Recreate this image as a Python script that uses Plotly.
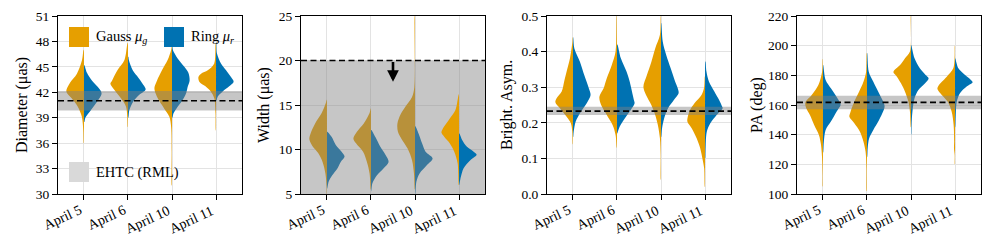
import plotly.graph_objects as go

# ---------------- data ----------------
days = ["April 5", "April 6", "April 10", "April 11"]

# Diameter (uas): y values (top -> bottom) and relative half-width densities
diam_gauss_v = [
    [47.0, 45.8, 44.2, 43.1, 42.1, 41.3, 40.3, 39.1, 37.5, 36.0],
    [47.8, 45.8, 44.6, 43.4, 43.0, 42.3, 41.3, 40.3, 39.0, 37.9],
    [47.5, 47.0, 45.8, 44.6, 43.4, 42.5, 41.7, 40.9, 40.1, 39.1, 37.9, 35.0, 31.0],
    [47.7, 45.4, 44.6, 44.2, 43.8, 43.25, 42.7, 42.1, 41.3, 39.5, 37.5],
]
diam_gauss_d = [
    [0.02, 0.11, 0.40, 0.80, 1.00, 0.70, 0.35, 0.12, 0.04, 0.01],
    [0.02, 0.20, 0.60, 0.90, 1.00, 0.78, 0.40, 0.11, 0.04, 0.01],
    [0.01, 0.05, 0.25, 0.57, 0.85, 1.00, 0.90, 0.70, 0.45, 0.15, 0.05, 0.02, 0.01],
    [0.02, 0.10, 0.47, 0.85, 1.00, 0.95, 0.60, 0.30, 0.10, 0.03, 0.01],
]
diam_ring_v = [
    [45.2, 44.3, 43.4, 42.7, 41.9, 40.9, 39.9, 39.0, 38.5],
    [46.2, 45.8, 44.6, 43.7, 42.7, 42.3, 41.7, 40.9, 39.9, 39.0],
    [47.5, 47.0, 46.0, 45.0, 44.3, 43.4, 42.7, 41.9, 41.1, 40.3, 39.5, 39.0],
    [48.0, 46.6, 45.4, 44.6, 43.8, 43.25, 42.7, 42.1, 41.5, 41.0],
]
diam_ring_d = [
    [0.02, 0.17, 0.45, 0.75, 1.00, 0.75, 0.40, 0.08, 0.02],
    [0.02, 0.05, 0.27, 0.60, 0.93, 1.00, 0.64, 0.30, 0.08, 0.02],
    [0.01, 0.05, 0.32, 0.70, 0.93, 1.00, 0.90, 0.80, 0.60, 0.32, 0.08, 0.02],
    [0.01, 0.05, 0.28, 0.57, 0.85, 1.00, 0.75, 0.38, 0.10, 0.02],
]

# Width (uas)
width_gauss_v = [
    [15.6, 15.2, 14.1, 12.9, 11.8, 11.15, 10.3, 9.6, 8.6, 7.3, 5.8, 5.0],
    [14.6, 14.1, 12.9, 12.0, 11.25, 10.7, 9.75, 8.6, 7.3, 5.5],
    [25.0, 17.0, 15.9, 14.8, 13.9, 12.9, 12.0, 11.1, 10.1, 8.8, 7.3, 5.5],
    [16.2, 15.9, 14.4, 13.3, 12.4, 11.9, 11.4, 10.7, 9.75, 8.45, 6.0],
]
width_gauss_d = [
    [0.01, 0.07, 0.30, 0.68, 0.93, 1.00, 0.80, 0.50, 0.25, 0.09, 0.02, 0.01],
    [0.01, 0.08, 0.42, 0.80, 1.00, 0.85, 0.45, 0.23, 0.08, 0.01],
    [0.01, 0.04, 0.17, 0.55, 0.83, 1.00, 0.97, 0.74, 0.42, 0.17, 0.06, 0.01],
    [0.01, 0.05, 0.21, 0.59, 0.91, 1.00, 0.83, 0.53, 0.27, 0.08, 0.01],
]
width_ring_v = [
    [12.0, 11.4, 10.5, 9.75, 9.2, 8.6, 7.9, 7.1, 6.4, 5.6],
    [12.2, 11.4, 10.3, 9.4, 8.6, 7.9, 7.1, 6.2, 5.3],
    [12.6, 11.8, 10.7, 9.75, 9.0, 8.25, 7.3, 6.4, 5.0],
    [11.8, 11.1, 10.3, 9.75, 9.4, 8.8, 7.9, 6.9, 6.0],
]
width_ring_d = [
    [0.02, 0.27, 0.50, 0.83, 1.00, 0.78, 0.60, 0.30, 0.10, 0.01],
    [0.02, 0.25, 0.53, 0.82, 1.00, 0.72, 0.34, 0.08, 0.01],
    [0.02, 0.20, 0.40, 0.60, 1.00, 0.68, 0.26, 0.08, 0.01],
    [0.02, 0.17, 0.45, 0.83, 1.00, 0.64, 0.26, 0.10, 0.01],
]

# Brightness asymmetry
asym_gauss_v = [
    [0.44, 0.428, 0.381, 0.344, 0.316, 0.288, 0.269, 0.258, 0.241, 0.217, 0.199, 0.175, 0.14],
    [0.50, 0.40, 0.362, 0.325, 0.297, 0.273, 0.25, 0.222, 0.194, 0.166, 0.13],
    [0.50, 0.447, 0.409, 0.371, 0.334, 0.301, 0.278, 0.25, 0.222, 0.194, 0.156, 0.11, 0.04],
    [0.33, 0.30, 0.278, 0.255, 0.236, 0.217, 0.203, 0.185, 0.156, 0.128, 0.10, 0.072, 0.02],
]
asym_gauss_d = [
    [0.01, 0.03, 0.17, 0.36, 0.50, 0.64, 0.93, 1.00, 0.74, 0.36, 0.12, 0.04, 0.01],
    [0.01, 0.08, 0.30, 0.58, 0.76, 1.00, 0.90, 0.58, 0.25, 0.08, 0.01],
    [0.01, 0.06, 0.33, 0.55, 0.80, 1.00, 0.85, 0.55, 0.33, 0.18, 0.06, 0.02, 0.01],
    [0.01, 0.05, 0.20, 0.60, 0.85, 0.98, 1.00, 0.76, 0.47, 0.27, 0.15, 0.05, 0.01],
]
asym_ring_v = [
    [0.44, 0.409, 0.371, 0.334, 0.297, 0.278, 0.255, 0.231, 0.203, 0.175, 0.16],
    [0.42, 0.381, 0.344, 0.316, 0.288, 0.264, 0.255, 0.236, 0.213, 0.189, 0.17],
    [0.48, 0.428, 0.39, 0.353, 0.316, 0.297, 0.283, 0.264, 0.241, 0.213, 0.185, 0.16],
    [0.372, 0.344, 0.316, 0.288, 0.264, 0.248, 0.241, 0.222, 0.199, 0.175, 0.128, 0.10],
]
asym_ring_d = [
    [0.01, 0.08, 0.40, 0.64, 0.90, 1.00, 0.78, 0.45, 0.15, 0.04, 0.01],
    [0.02, 0.22, 0.54, 0.72, 0.85, 0.96, 1.00, 0.78, 0.45, 0.15, 0.01],
    [0.01, 0.10, 0.30, 0.55, 0.80, 0.95, 1.00, 0.73, 0.40, 0.18, 0.06, 0.01],
    [0.02, 0.08, 0.22, 0.53, 0.80, 0.95, 1.00, 0.66, 0.30, 0.10, 0.03, 0.01],
]

# Position angle (deg)
pa_gauss_v = [
    [191, 182.5, 173.5, 166.8, 161.8, 157.8, 153.3, 146.5, 139.8, 133, 124.1, 112.8, 105],
    [195, 182.5, 175.7, 169.0, 163.4, 157.8, 154.4, 152.1, 147.7, 142.0, 135.3, 128.5, 117.3, 102],
    [220, 196, 191.5, 187, 183.6, 182.1, 179.1, 174.6, 169, 162.3, 155.5, 145],
    [200, 193.7, 184.7, 179.1, 175.7, 173, 170.8, 166.8, 162.3, 155.5, 146.5, 135.3, 130.8, 126.3, 120],
]
pa_gauss_d = [
    [0.01, 0.05, 0.26, 0.64, 1.00, 0.95, 0.74, 0.50, 0.23, 0.11, 0.05, 0.02, 0.01],
    [0.01, 0.05, 0.20, 0.45, 0.68, 0.87, 0.96, 1.00, 0.72, 0.40, 0.20, 0.08, 0.03, 0.01],
    [0.01, 0.06, 0.34, 0.62, 0.94, 1.00, 0.80, 0.57, 0.34, 0.15, 0.06, 0.01],
    [0.01, 0.02, 0.10, 0.47, 0.75, 0.94, 1.00, 0.75, 0.42, 0.19, 0.08, 0.05, 0.06, 0.02, 0.01],
]
pa_ring_v = [
    [187, 176.9, 171.3, 165.6, 161.8, 160, 155.5, 148.8, 143.2, 135.3, 128],
    [195, 182.5, 175.7, 169, 162.3, 158.9, 154.4, 148.8, 143.2, 137.5, 130.8, 125],
    [200.5, 191.5, 184.7, 180.2, 178, 174.6, 170.1, 164.5, 155.5, 146.5, 140],
    [191.5, 184.7, 180.2, 176.9, 175.3, 172.4, 167.9, 162.3, 153.3, 145],
]
pa_ring_d = [
    [0.01, 0.15, 0.45, 0.77, 0.96, 1.00, 0.77, 0.45, 0.15, 0.05, 0.01],
    [0.01, 0.10, 0.36, 0.64, 0.92, 1.00, 0.87, 0.64, 0.36, 0.12, 0.04, 0.01],
    [0.01, 0.20, 0.50, 0.83, 1.00, 0.80, 0.42, 0.20, 0.08, 0.03, 0.01],
    [0.01, 0.19, 0.57, 0.90, 1.00, 0.66, 0.28, 0.10, 0.04, 0.01],
]

# EHTC reference values (center, band low, band high)
ref_center = [41.0, 20.0, 0.233, 161.8]
ref_low = [39.85, 5.0, 0.222, 157.2]
ref_high = [42.15, 20.0, 0.245, 166.3]

y_titles = ["Diameter (μas)", "Width (μas)", "Bright. Asym.", "PA (deg)"]
y_ranges = [[30, 51], [5, 25], [0, 0.5], [100, 220]]
y_ticks = [
    [30, 33, 36, 39, 42, 45, 48, 51],
    [5, 10, 15, 20, 25],
    [0.0, 0.1, 0.2, 0.3, 0.4, 0.5],
    [100, 120, 140, 160, 180, 200, 220],
]
y_ticktext = [
    [str(t) for t in y_ticks[0]],
    [str(t) for t in y_ticks[1]],
    ["%.1f" % t for t in y_ticks[2]],
    [str(t) for t in y_ticks[3]],
]

# ---------------- style ----------------
PAGE_OFF = 8  # default body margin of the html page
W, H = 997 - PAGE_OFF, 250 - PAGE_OFF
ORANGE = "#E69F00"
BLUE = "#0072B2"
BAND = "rgba(128,128,128,0.45)"
GRID = "#e3e3e3"
FONT = "Liberation Serif"
HALF_W = 0.4
X_RANGE = [-0.59, 3.59]
panel_px = [(58, 242), (301, 485), (547, 731), (797, 981)]   # page pixels
top_px, bot_px = 16, 194
title_x_px = [22, 264, 507, 757]
on_top = [[], [3], [], []]   # violins drawn above the band


def px_x(p):
    return (p - PAGE_OFF) / W


def px_y(p):
    return 1 - (p - PAGE_OFF) / H


panels = [
    (diam_gauss_v, diam_gauss_d, diam_ring_v, diam_ring_d),
    (width_gauss_v, width_gauss_d, width_ring_v, width_ring_d),
    (asym_gauss_v, asym_gauss_d, asym_ring_v, asym_ring_d),
    (pa_gauss_v, pa_gauss_d, pa_ring_v, pa_ring_d),
]

fig = go.Figure()


def half_violin(xa, ya, pos, vals, dens, side, color):
    xs = [pos] + [pos + side * HALF_W * d for d in dens] + [pos]
    ys = [vals[0]] + list(vals) + [vals[-1]]
    fig.add_trace(go.Scatter(
        x=xs, y=ys, xaxis=xa, yaxis=ya, mode="lines", fill="toself",
        fillcolor=color, line=dict(width=0, color=color, shape="spline", smoothing=0.9),
        hoverinfo="skip", showlegend=False))


annotations = []
layout_axes = {}
for i, (gv, gd, rv, rd) in enumerate(panels):
    n = i + 1
    xa = "x" if n == 1 else "x%d" % n
    ya = "y" if n == 1 else "y%d" % n
    later = on_top[i]
    for k in range(len(days)):
        if k in later:
            continue
        half_violin(xa, ya, k, gv[k], gd[k], -1, ORANGE)
        half_violin(xa, ya, k, rv[k], rd[k], +1, BLUE)
    fig.add_trace(go.Scatter(
        x=[X_RANGE[0], X_RANGE[1], X_RANGE[1], X_RANGE[0]],
        y=[ref_low[i], ref_low[i], ref_high[i], ref_high[i]],
        xaxis=xa, yaxis=ya, mode="lines", fill="toself", fillcolor=BAND,
        line=dict(width=0), hoverinfo="skip", showlegend=False))
    for k in later:
        half_violin(xa, ya, k, gv[k], gd[k], -1, ORANGE)
        half_violin(xa, ya, k, rv[k], rd[k], +1, BLUE)
    fig.add_trace(go.Scatter(
        x=X_RANGE, y=[ref_center[i], ref_center[i]], xaxis=xa, yaxis=ya,
        mode="lines", line=dict(color="black", width=1.7, dash="6px,3.5px"),
        hoverinfo="skip", showlegend=False))

    x0, x1 = panel_px[i]
    layout_axes["xaxis" if n == 1 else "xaxis%d" % n] = dict(
        domain=[px_x(x0), px_x(x1)], anchor=ya, range=X_RANGE, automargin=False,
        tickmode="array", tickvals=list(range(len(days))), showticklabels=False,
        showgrid=True, gridcolor=GRID, gridwidth=1,
        zeroline=False, showline=True, linecolor="black", linewidth=1, mirror=True,
        ticks="outside", ticklen=5, tickcolor="black", fixedrange=True)
    layout_axes["yaxis" if n == 1 else "yaxis%d" % n] = dict(
        domain=[px_y(bot_px), px_y(top_px)], anchor=xa, range=y_ranges[i],
        automargin=False,
        tickmode="array", tickvals=y_ticks[i], ticktext=y_ticktext[i],
        showgrid=True, gridcolor=GRID, gridwidth=1,
        zeroline=False, showline=True, linecolor="black", linewidth=1, mirror=True,
        ticks="outside", ticklen=5, tickcolor="black",
        tickfont=dict(family=FONT, size=13.5, color="black"), fixedrange=True)

    # rotated category labels, right-aligned under each tick
    for k, d in enumerate(days):
        annotations.append(dict(
            x=k, y=px_y(bot_px + 6), xref=xa, yref="paper", text=d, textangle=-25,
            showarrow=False, xanchor="right", yanchor="top", xshift=3,
            font=dict(family=FONT, size=14, color="black")))

    annotations.append(dict(
        x=px_x(title_x_px[i]), y=px_y((top_px + bot_px) / 2), xref="paper", yref="paper",
        text=y_titles[i], textangle=-90, showarrow=False,
        font=dict(family=FONT, size=16, color="black"), xanchor="center", yanchor="middle"))

fig.update_layout(**layout_axes)

annotations.append(dict(
    x=1.5, y=17.6, ax=1.5, ay=20.0, xref="x2", yref="y2", axref="x2", ayref="y2",
    showarrow=True, arrowhead=2, arrowsize=0.9, arrowwidth=2.6, arrowcolor="black", text=""))

shapes = []
leg = [
    (69, 27, ORANGE, "Gauss <i>μ</i><sub><i>g</i></sub>"),
    (164, 27, BLUE, "Ring <i>μ</i><sub><i>r</i></sub>"),
    (69, 162, "#d9d9d9", "EHTC (RML)"),
]
for (lx, ly, col, txt) in leg:
    shapes.append(dict(type="rect", xref="paper", yref="paper",
                       x0=px_x(lx), x1=px_x(lx + 20), y0=px_y(ly + 20), y1=px_y(ly),
                       fillcolor=col, line=dict(width=0), layer="above"))
    annotations.append(dict(x=px_x(lx + 25), y=px_y(ly + 10), xref="paper", yref="paper",
                            text=txt, showarrow=False, xanchor="left", yanchor="middle",
                            font=dict(family=FONT, size=14.5, color="black")))

fig.update_layout(
    width=W, height=H, margin=dict(l=0, r=0, t=0, b=0),
    paper_bgcolor="white", plot_bgcolor="white",
    annotations=annotations, shapes=shapes, showlegend=False,
)

fig.write_html("out.html", config={"displayModeBar": False})
